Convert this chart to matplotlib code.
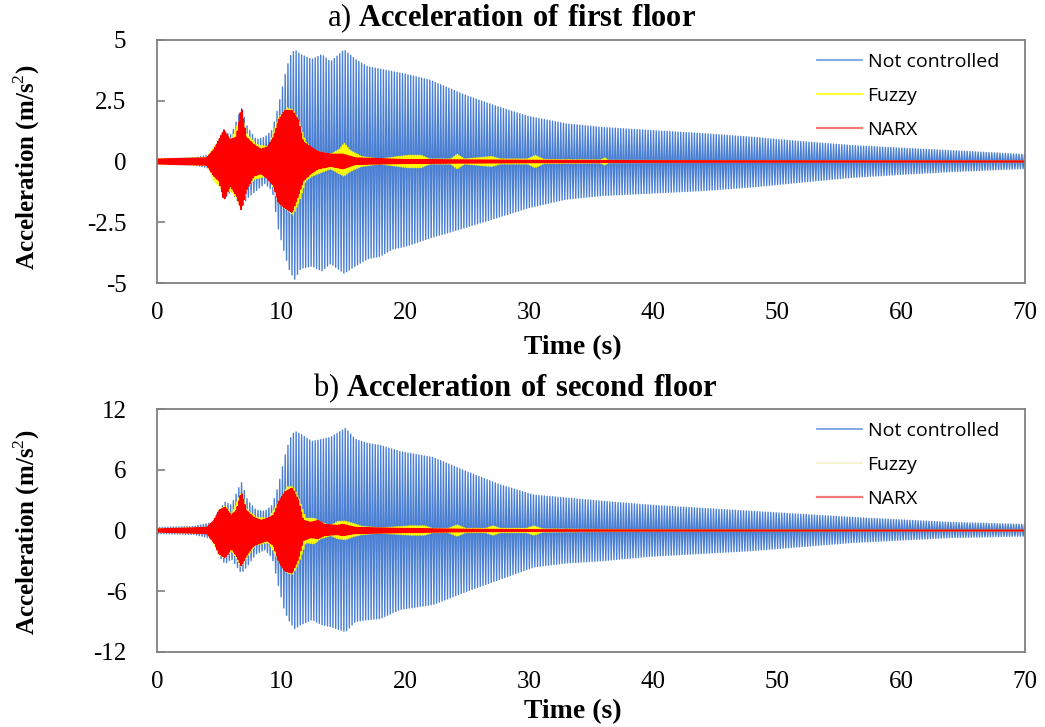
import numpy as np
import matplotlib
matplotlib.use('Agg')
import matplotlib.pyplot as plt
from matplotlib.lines import Line2D

#####################################################################
# DATA  (peak envelopes of each record, upper / lower, in m/s^2)
#####################################################################

T_END = 70.0

# --- first floor ---
a_free_t = [0, 3, 4.5, 5.0, 5.5, 6.0, 6.8, 7.3, 8.0, 8.7, 9.3, 9.8, 10.3, 10.7, 11.1,
            11.6, 12.5, 13.3, 14.0, 15.1, 16.0, 17.0, 18.0, 19.0, 20.0, 22.0, 25.0,
            27.5, 30.0, 33.0, 36.0, 40.0, 44.0, 48.0, 52.0, 56.0, 60.0, 64.0, 70.0]
a_free_up = [0.1, 0.15, 0.3, 0.9, 1.2, 1.1, 2.2, 1.4, 0.9, 1.0, 1.3, 2.3, 3.5, 4.3, 4.6,
             4.4, 4.2, 4.4, 4.1, 4.6, 4.2, 3.9, 3.8, 3.7, 3.6, 3.35, 2.7,
             2.25, 1.85, 1.55, 1.4, 1.27, 1.15, 1.0, 0.82, 0.66, 0.55, 0.45, 0.29]
a_free_lo = [-0.1, -0.15, -0.3, -0.9, -1.5, -1.2, -1.9, -1.5, -1.2, -0.9, -1.2, -2.8, -3.8, -4.5, -4.85,
             -4.4, -4.3, -4.5, -4.2, -4.6, -4.3, -4.0, -3.9, -3.6, -3.5, -3.15, -2.7,
             -2.3, -1.9, -1.55, -1.4, -1.3, -1.2, -1.05, -0.85, -0.66, -0.53, -0.42, -0.29]

a_fuzzy_t = [0, 4.0, 4.6, 5.0, 5.4, 6.0, 6.8, 7.3, 8.0, 9.0, 9.8, 10.5, 11.0, 11.5, 12.0,
             12.5, 13.0, 14.0, 14.7, 15.1, 15.6, 16.5, 18.0, 20.2, 21.3, 22.0, 23.7,
             24.2, 24.8, 27.0, 27.7, 29.9, 30.5, 31.2, 35.8, 36.1, 36.4, 40.0, 50.0, 70.0]
a_fuzzy_up = [0.1, 0.15, 0.6, 0.9, 1.2, 0.9, 1.9, 1.1, 0.7, 0.6, 1.8, 2.2, 2.1, 1.6, 0.8,
              0.5, 0.4, 0.3, 0.5, 0.75, 0.45, 0.2, 0.1, 0.25, 0.25, 0.1, 0.1,
              0.3, 0.1, 0.2, 0.1, 0.1, 0.25, 0.08, 0.06, 0.15, 0.05, 0.04, 0.02, 0.01]
a_fuzzy_lo = [-0.1, -0.15, -0.8, -1.0, -1.3, -1.2, -1.9, -1.0, -0.7, -0.6, -1.7, -2.0, -2.2, -1.6, -0.8,
              -0.6, -0.5, -0.3, -0.5, -0.6, -0.4, -0.2, -0.1, -0.25, -0.25, -0.1, -0.1,
              -0.3, -0.1, -0.2, -0.1, -0.1, -0.25, -0.08, -0.06, -0.15, -0.05, -0.04, -0.02, -0.01]

a_narx_t = [0, 4.0, 4.6, 5.0, 5.4, 5.9, 6.4, 6.8, 7.2, 7.8, 8.4, 8.9, 9.4, 9.8, 10.3,
            10.9, 11.4, 11.8, 12.4, 13.0, 14.0, 15.0, 16.0, 20.0, 30.0, 40.0, 70.0]
a_narx_up = [0.1, 0.15, 0.5, 0.9, 1.3, 0.9, 1.0, 2.25, 1.0, 0.7, 0.5, 0.6, 1.0, 1.7, 2.1,
             2.1, 1.7, 0.8, 0.6, 0.4, 0.3, 0.3, 0.15, 0.08, 0.05, 0.03, 0.02]
a_narx_lo = [-0.1, -0.15, -0.6, -0.8, -1.6, -1.0, -1.4, -2.0, -1.2, -0.6, -0.5, -0.7, -1.0, -1.7, -1.9,
             -2.1, -1.4, -0.8, -0.5, -0.3, -0.2, -0.3, -0.12, -0.08, -0.05, -0.03, -0.02]

# --- second floor ---
b_free_t = [0, 3, 4.5, 5.0, 5.5, 6.0, 6.8, 7.3, 8.0, 8.7, 9.3, 9.8, 10.3, 10.7, 11.1,
            11.6, 12.5, 13.3, 14.0, 15.2, 16.0, 17.0, 18.0, 19.6, 22.3, 25.0, 27.7,
            30.4, 33.1, 35.8, 39.8, 47.9, 56.0, 64.0, 70.0]
b_free_up = [0.3, 0.4, 0.8, 2.0, 2.8, 2.5, 4.8, 3.0, 2.0, 1.9, 2.5, 4.5, 7.3, 9.0, 9.8,
             9.5, 8.8, 9.0, 9.2, 10.1, 9.0, 8.6, 8.4, 7.8, 7.2, 5.8, 4.5,
             3.5, 3.2, 2.9, 2.5, 1.9, 1.3, 0.8, 0.6]
b_free_lo = [-0.3, -0.4, -0.8, -2.5, -3.3, -2.8, -4.2, -3.5, -2.3, -1.9, -2.7, -5.5, -8.0, -9.0, -9.7,
             -9.3, -8.8, -9.3, -9.5, -10.0, -9.0, -8.8, -8.7, -7.8, -7.3, -6.0, -4.8,
             -3.6, -3.2, -3.0, -2.55, -2.0, -1.2, -0.7, -0.55]

b_fuzzy_t = [0, 4.0, 4.6, 5.0, 5.5, 6.0, 6.8, 7.3, 8.0, 9.0, 9.8, 10.5, 11.0, 11.5, 12.0,
             12.7, 13.2, 14.0, 14.6, 15.2, 15.8, 16.5, 18.0, 20.5, 21.6, 22.2, 23.5,
             24.2, 24.9, 26.5, 27.1, 27.7, 29.8, 30.4, 31.1, 35.0, 40.0, 50.0, 70.0]
b_fuzzy_up = [0.15, 0.3, 1.0, 2.0, 2.4, 1.6, 3.8, 2.0, 1.3, 1.2, 2.8, 4.3, 4.3, 3.0, 1.2,
              1.2, 0.8, 0.5, 0.9, 0.9, 0.7, 0.4, 0.25, 0.45, 0.45, 0.2, 0.2,
              0.55, 0.2, 0.2, 0.45, 0.2, 0.2, 0.45, 0.15, 0.1, 0.06, 0.03, 0.02]
b_fuzzy_lo = [-0.15, -0.3, -1.3, -2.4, -2.7, -2.0, -3.6, -2.5, -1.4, -1.2, -3.0, -4.2, -4.3, -3.0, -1.2,
              -1.3, -0.8, -0.5, -0.8, -0.9, -0.6, -0.4, -0.25, -0.45, -0.45, -0.2, -0.2,
              -0.55, -0.2, -0.2, -0.45, -0.2, -0.2, -0.45, -0.15, -0.1, -0.06, -0.03, -0.02]

b_narx_t = [0, 4.0, 4.6, 5.0, 5.5, 6.0, 6.4, 6.8, 7.2, 7.8, 8.4, 8.9, 9.4, 9.8, 10.3,
            10.9, 11.4, 11.8, 12.4, 13.0, 13.5, 14.5, 15.0, 16.0, 20.0, 25.0, 30.0, 40.0, 70.0]
b_narx_up = [0.15, 0.3, 1.0, 2.0, 2.3, 1.5, 2.0, 3.8, 2.0, 1.3, 1.0, 1.2, 1.5, 2.8, 3.8,
             4.2, 3.0, 1.0, 0.8, 1.0, 0.6, 0.5, 0.6, 0.3, 0.2, 0.12, 0.08, 0.05, 0.03]
b_narx_lo = [-0.15, -0.3, -1.2, -2.3, -2.7, -1.8, -2.5, -3.5, -2.5, -1.5, -1.2, -1.0, -1.5, -3.0, -4.0,
             -4.2, -2.8, -1.0, -0.7, -0.8, -0.5, -0.4, -0.5, -0.3, -0.2, -0.12, -0.08, -0.05, -0.03]

x_ticks = [0, 10, 20, 30, 40, 50, 60, 70]
a_yticks = [-5, -2.5, 0, 2.5, 5]
a_ylabels = ['-5', '-2.5', '0', '2.5', '5']
b_yticks = [-12, -6, 0, 6, 12]
b_ylabels = ['-12', '-6', '0', '6', '12']

series_names = ['Not controlled', 'Fuzzy', 'NARX']

#####################################################################
# HELPERS
#####################################################################

BLUE = '#4a7fd2'
YELLOW = '#ffff00'
RED = '#ff0000'
GRID = '#808080'

plt.rcParams['font.family'] = 'Liberation Serif'
plt.rcParams['mathtext.fontset'] = 'custom'
plt.rcParams['mathtext.rm'] = 'Liberation Serif'
plt.rcParams['mathtext.bf'] = 'Liberation Serif:bold'


def swing(t_knots, upper, lower, half):
	# alternate between the upper and lower peak envelope every half cycle
	t = np.arange(0, T_END + half / 2, half)
	up = np.interp(t, t_knots, upper)
	lo = np.interp(t, t_knots, lower)
	y = np.where(np.arange(len(t)) % 2 == 0, up, lo)
	return t, y


def formatAxes(ax, yticks, ylabels):
	ax.set_xlim(0, T_END)
	ax.set_ylim(yticks[0], yticks[-1])
	ax.set_xticks(x_ticks)
	ax.set_yticks(yticks)
	ax.set_yticklabels(ylabels)
	ax.tick_params(axis='x', length=0, pad=14, labelsize=18)
	ax.tick_params(axis='y', direction='in', length=6, width=1.2, color=GRID,
		pad=22, labelsize=18)
	for s in ax.spines.values():
		s.set_color(GRID)
		s.set_linewidth(1.3)


def drawPanel(ax, free, fuzzy, narx, fuzzyLegend):
	t, y = swing(*free, 0.11)
	ax.plot(t, y, color=BLUE, lw=1.0)
	t, y = swing(*fuzzy, 0.07)
	ax.plot(t, y, color=YELLOW, lw=1.1)
	t, y = swing(*narx, 0.06)
	ax.plot(t, y, color=RED, lw=1.1)

	handles = [Line2D([], [], color='#6e9ae0', lw=1.2),
		Line2D([], [], color=fuzzyLegend, lw=1.2),
		Line2D([], [], color='#f47878', lw=1.6)]
	return handles

#####################################################################
# FIGURE
#####################################################################

fig = plt.figure(figsize=(10.45, 7.27), dpi=100)
W, H = 1045.0, 727.0

axA = fig.add_axes([157 / W, 1 - 283 / H, 868 / W, 243 / H])
axB = fig.add_axes([157 / W, 1 - 652 / H, 868 / W, 243 / H])

hA = drawPanel(axA, (a_free_t, a_free_up, a_free_lo), (a_fuzzy_t, a_fuzzy_up, a_fuzzy_lo),
	(a_narx_t, a_narx_up, a_narx_lo), YELLOW)
hB = drawPanel(axB, (b_free_t, b_free_up, b_free_lo), (b_fuzzy_t, b_fuzzy_up, b_fuzzy_lo),
	(b_narx_t, b_narx_up, b_narx_lo), '#f4f4c8')

formatAxes(axA, a_yticks, a_ylabels)
formatAxes(axB, b_yticks, b_ylabels)

for ax, handles, top in [(axA, hA, 53), (axB, hB, 422)]:
	ax.legend(handles, series_names, loc='upper left', bbox_to_anchor=(817 / W, 1 - top / H),
		bbox_transform=fig.transFigure, frameon=False, borderpad=0, borderaxespad=0,
		handlelength=2.3, handletextpad=0.3, labelspacing=0.82,
		prop={'family': 'Open Sans', 'size': 14})

# titles, axis labels
fig.text(511 / W, 1 - 18 / H, r'a) $\mathbf{Acceleration\ of\ first\ floor}$',
	ha='center', va='center', fontsize=22)
fig.text(515 / W, 1 - 388 / H, r'b) $\mathbf{Acceleration\ of\ second\ floor}$',
	ha='center', va='center', fontsize=22)

for yc in [167, 532]:
	fig.text(27 / W, 1 - yc / H, r'Acceleration (m/s$^2$)', rotation=90,
		ha='center', va='center', fontsize=18, fontweight='bold')

for yc in [348, 712]:
	fig.text(573 / W, 1 - yc / H, 'Time (s)', ha='center', va='center',
		fontsize=20, fontweight='bold')

fig.savefig('out.png', dpi=100)
